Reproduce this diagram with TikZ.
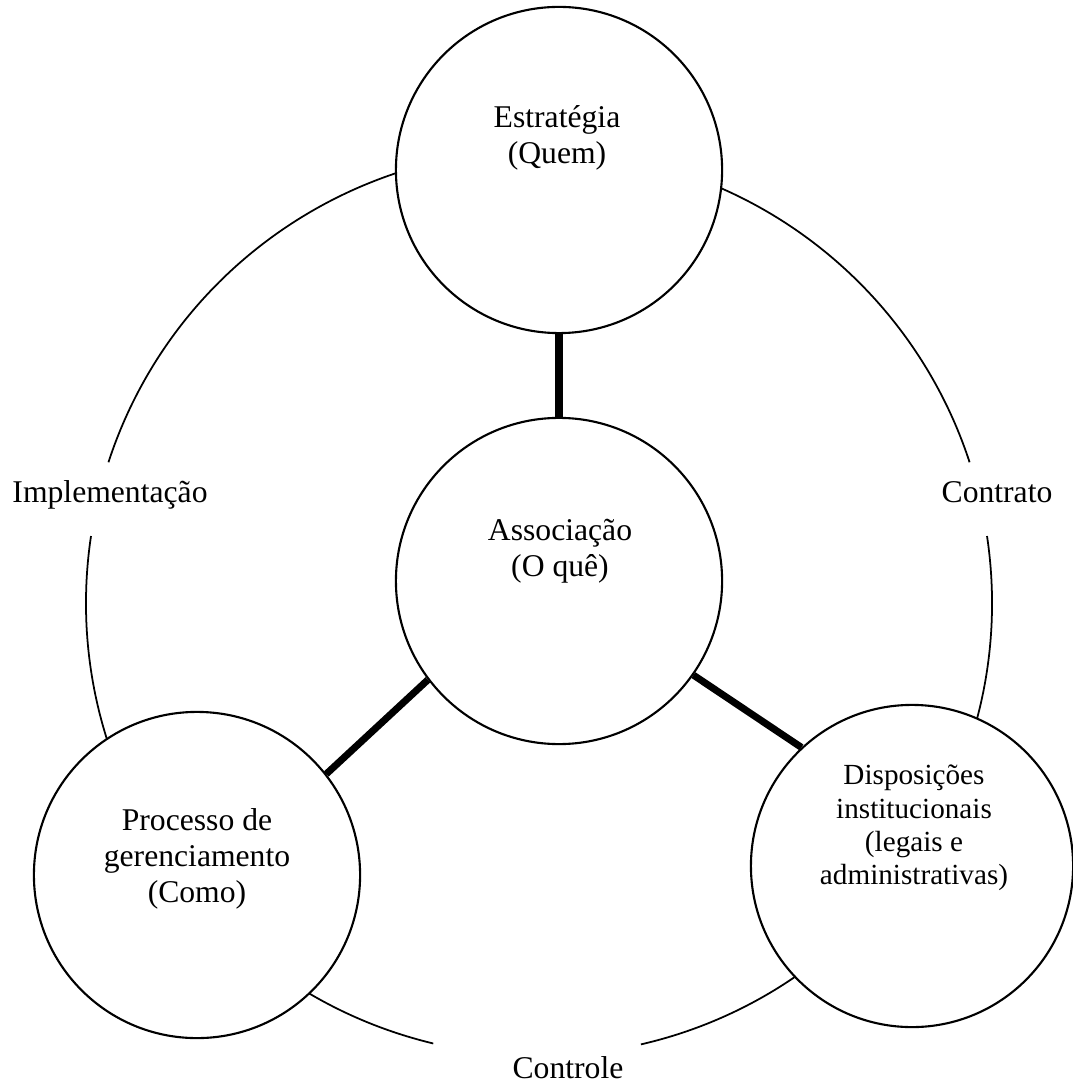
\documentclass[tikz,border=0pt]{standalone}
\usepackage{fontspec}
\setmainfont{Liberation Serif}

\begin{document}
\begin{tikzpicture}[x=0.01cm,y=0.01cm,
                    ring node/.style={circle,draw,fill=white,line width=0.6pt,
                                      minimum size=3.26cm,inner sep=0pt},
                    text node/.style={align=center,font=\fontsize{9pt}{10.24pt}\selectfont},
                    small text/.style={align=center,font=\fontsize{8.3pt}{9.45pt}\selectfont},
                    link/.style={line width=2pt},
                    cycle line/.style={line width=0.5pt}]

  \useasboundingbox (0,0) rectangle (1072,-1083);

  % outer cycle, broken at its three labels
  \coordinate (ctr) at (539,-603);
  \draw[cycle line] ([shift={(8.5:453)}]ctr) arc[start angle=8.5,end angle=-77,radius=453];
  \draw[cycle line] ([shift={(-103.5:453)}]ctr) arc[start angle=-103.5,end angle=-188.5,radius=453];
  \draw[cycle line] ([shift={(161.9:453)}]ctr) arc[start angle=161.9,end angle=18.1,radius=453];

  \node[ring node] (strat) at (559,-170) {};
  \node[ring node] (assoc) at (559,-581) {};
  \node[ring node] (proc) at (197,-875) {};
  \node[ring node,minimum size=3.22cm] (disp) at (912,-866) {};

  \node[text node] (strat-t) at (557,-138) {Estratégia\\(Quem)};
  \node[text node] (assoc-t) at (560,-551) {Associação\\(O quê)};
  \node[text node] (proc-t) at (197,-859) {Processo de\\gerenciamento\\(Como)};
  \node[small text] (disp-t) at (914,-828) {Disposições\\institucionais\\(legais e\\administrativas)};

  \node[text node,anchor=base] (impl) at (110,-502) {Implementação};
  \node[text node,anchor=base] (contr) at (997,-502) {Contrato};
  \node[text node,anchor=base] (ctrl) at (568,-1078) {Controle};

  \path[link]
    (strat.south) edge (assoc.north)
    (assoc.217) edge (proc.38)
    (assoc.-35) edge (disp.133);
\end{tikzpicture}
\end{document}
